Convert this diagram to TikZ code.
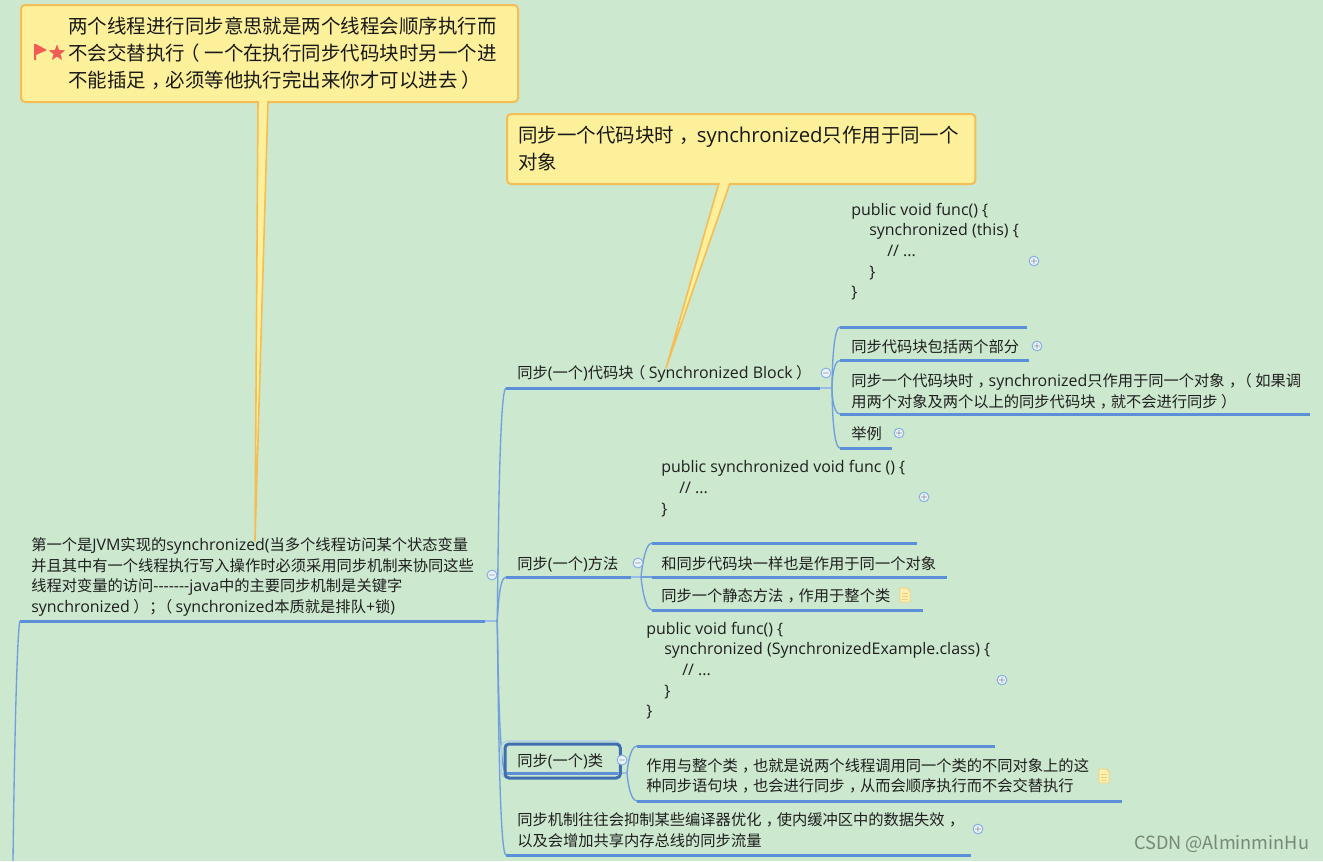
\documentclass[tikz,border=0pt]{standalone}
\usepackage{fontspec}
\setmainfont{Noto Sans CJK SC}
\newfontfamily\latf[Scale=1.045]{Open Sans}
\newcommand\lat[1]{{\latf #1}}
\newcommand\zd{\kern.28em，\kern-.28em}
\newcommand\zf{\kern.28em；\kern-.28em}
\newcommand\zl{\kern-.22em（\kern.22em}
\newcommand\zr{\kern.22em）\kern-.22em}
\usetikzlibrary{shapes.geometric,calc}
\definecolor{bgc}{HTML}{CCE8CF}
\definecolor{linec}{HTML}{5B8FD8}
\definecolor{branchc}{HTML}{6F9FDC}
\definecolor{callfill}{HTML}{FDF09B}
\definecolor{callline}{HTML}{F5BD55}
\definecolor{selc}{HTML}{3F6FB0}
\definecolor{redc}{HTML}{F25C54}
\definecolor{notef}{HTML}{FDF0B0}
\definecolor{notel}{HTML}{F3CE74}
\tikzset{
  x=0.75pt,y=-0.75pt,
  txt/.style={inner sep=0pt,anchor=west,align=left,font=\fontsize{11.45pt}{15.5pt}\selectfont,text=black!88},
  call/.style={draw=callline,fill=callfill,line width=1.5pt,rounded corners=3pt,inner sep=0pt,anchor=north west},
  calltxt/.style={inner sep=0pt,anchor=west,align=left,font=\fontsize{14.6pt}{20.3pt}\selectfont,text=black!90},
  tail/.style={draw=callline,fill=callfill,line width=1.2pt,line join=round},
  uline/.style={draw=linec,line width=2.25pt},
  branch/.style={draw=branchc,line width=1pt},
  stub/.style={draw=branchc!70,line width=1.5pt},
  togg/.style={circle,draw=branchc!85,fill=white!85!branchc,line width=.7pt,minimum size=6.6pt,inner sep=0pt,font=\fontsize{6pt}{6pt}\selectfont,text=black!70},
  sel/.style={draw=selc,line width=2.25pt,rounded corners=3pt,inner sep=0pt,anchor=north west},
}
% name, x0, x1, y of underline
\newcommand\ul[4]{\coordinate (#1s) at (#2,#4);\coordinate (#1e) at (#3,#4);\draw[uline] (#1s) -- (#1e);}
\newcommand\tog[3]{\node[togg] (#1) at (#2) {#3};}
\newcommand\noteicon[2]{\begin{scope}[shift={(#1,#2)}]\draw[fill=notef,draw=notel,line width=.7pt] (-5,-7) -- (2,-7) -- (5,-4) -- (5,7) -- (-5,7) -- cycle;\draw[notel,line width=.6pt] (-3,-2) -- (3,-2) (-3,1) -- (3,1) (-3,4) -- (3,4);\end{scope}}
\begin{document}
\begin{tikzpicture}
\path[fill=bgc] (0,0) rectangle (1323,861);
\useasboundingbox (0,0) rectangle (1323,861);

% callouts
\node[call,minimum width=372.75pt,minimum height=72.75pt] (callA) at (20,4) {};
\node[call,minimum width=351.25pt,minimum height=52.5pt] (callB) at (506,113) {};

% root and topics
\node[txt] (root) at (31,577) {第一个是\lat{JVM}实现的\lat{synchronized(}当多个线程访问某个状态变量\\并且其中有一个线程执行写入操作时必须采用同步机制来协同这些\\线程对变量的访问\lat{-{}-{}-{}-{}-{}-{}-java}中的主要同步机制是关键字\\\lat{synchronized}\zr\zf\zl\lat{synchronized}本质就是排队\lat{+}锁\lat{)}};
\ul{r}{20}{485}{621}
\node[txt] (a) at (517,374) {同步\lat{(}一个\lat{)}代码块\zl\lat{Synchronized Block}\zr};
\ul{a}{506}{820}{388}
\node[txt] (b) at (517,564) {同步\lat{(}一个\lat{)}方法};
\ul{b}{506}{631}{577}
\node[txt] (c) at (517,761) {同步\lat{(}一个\lat{)}类};
\node[txt] (d) at (517,830.5) {同步机制往往会抑制某些编译器优化\zd 使内缓冲区中的数据失效\zd\\以及会增加共享内存总线的同步流量};
\ul{d}{506}{971}{855}
\ul{c}{506}{618}{773}

% level 3
\node[txt] (a1) at (851,251.5) {\lat{public void func() \{}\\\hspace*{13.5pt}\lat{synchronized (this) \{}\\\hspace*{27pt}\lat{// ...}\\\hspace*{13.5pt}\lat{\}}\\\lat{\}}};
\ul{ao}{840}{1027}{327}
\node[txt] (a2) at (851,347) {同步代码块包括两个部分};
\ul{at}{840}{1029}{360.5}
\node[txt] (a3) at (851,391) {同步一个代码块时\zd\lat{synchronized}只作用于同一个对象\zd\zl 如果调\\用两个对象及两个以上的同步代码块\zd 就不会进行同步\zr};
\ul{au}{840}{1310}{414}
\node[txt] (a4) at (851,434) {举例};
\ul{av}{840}{892}{448}

\node[txt] (b1) at (661,488.5) {\lat{public synchronized void func () \{}\\\hspace*{13.5pt}\lat{// ...}\\\lat{\}}};
\ul{bo}{652}{917}{543}
\node[txt] (b2) at (661,564) {和同步代码块一样也是作用于同一个对象};
\ul{bt}{652}{947}{577}
\node[txt] (b3) at (661,596) {同步一个静态方法\zd 作用于整个类};
\ul{bu}{652}{923}{610}

\node[txt] (c1) at (646,670.5) {\lat{public void func() \{}\\\hspace*{13.5pt}\lat{synchronized (SynchronizedExample.class) \{}\\\hspace*{27pt}\lat{// ...}\\\hspace*{13.5pt}\lat{\}}\\\lat{\}}};
\ul{co}{637}{995}{746}
\node[txt] (c2) at (646,776) {作用与整个类\zd 也就是说两个线程调用同一个类的不同对象上的这\\种同步语句块\zd 也会进行同步\zd 从而会顺序执行而不会交替执行};
\ul{ct}{637}{1122}{801}

% branches
\coordinate (rt) at (497,621);
\coordinate (at) at (832,388);
\coordinate (bt) at (641,577);
\coordinate (ct) at (627,773);
\draw[stub] (re) -- (rt);
\draw[stub] (ae) -- (at);
\draw[stub] (be) -- (bt);
\draw[stub] (ce) -- (ct);
\draw[branch] (rs) .. controls (18,624) and (15,700) .. (13,861);
\foreach \t in {as,bs,cs,ds}{
  \draw[branch] (rt) .. controls ($(rt)+(1,0)$) and ($(\t)+(-8,0)$) .. (\t);}
\foreach \t in {aos,ats,aus,avs}{
  \draw[branch] (at) .. controls ($(at)+(0,0)$) and ($(\t)+(-8,0)$) .. (\t);}
\foreach \t in {bos,bts,bus}{
  \draw[branch] (bt) .. controls ($(bt)+(0,0)$) and ($(\t)+(-8,0)$) .. (\t);}
\foreach \t in {cos,cts}{
  \draw[branch] (ct) .. controls ($(ct)+(0,0)$) and ($(\t)+(-8,0)$) .. (\t);}

% selection
\draw[draw=branchc!55,line width=.8pt,rounded corners=4pt] (501.5,741) rectangle (620,778);
\node[sel,minimum width=86.5pt,minimum height=25.5pt] (csel) at (503.5,742.5) {};

% tails
\coordinate (ta1) at (258,101);\coordinate (ta2) at (268,101);\coordinate (ta3) at (255,541);
\draw[tail] (ta1) -- (ta3) -- (ta2);
\fill[callfill] ($(ta1)+(.8,-2)$) -- ($(ta1)+(.8,1)$) -- ($(ta2)+(-.8,1)$) -- ($(ta2)+(-.8,-2)$) -- cycle;
\coordinate (tb1) at (719,183);\coordinate (tb2) at (730,183);\coordinate (tb3) at (666,368);
\draw[tail] (tb1) -- (tb3) -- (tb2);
\fill[callfill] ($(tb1)+(.8,-2)$) -- ($(tb1)+(.8,1)$) -- ($(tb2)+(-.8,1)$) -- ($(tb2)+(-.8,-2)$) -- cycle;

\node[calltxt] (tA) at (68,53.5) {两个线程进行同步意思就是两个线程会顺序执行而\\不会交替执行\zl 一个在执行同步代码块时另一个进\\不能插足\zd 必须等他执行完出来你才可以进去\zr};
\node[calltxt] (tB) at (518,149) {同步一个代码块时\zd\kern2.5pt\lat{synchronized}只作用于同一个\\对象};

% marker icons
\fill[redc] (34,44) -- (36,44) -- (47,50) -- (36,55) -- (36,60) -- (34,60) -- cycle;
\node[star,star points=5,star point ratio=2.4,fill=redc,inner sep=0pt,minimum size=13pt] (mstar) at (57,53) {};

% toggles
\tog{tr}{492,575}{$-$}
\tog{ta}{826,373}{$-$}
\tog{tb}{638,563}{$-$}
\tog{tc}{622,760}{$-$}
\tog{pa1}{1034,261}{$+$}
\tog{pa2}{1037,346}{$+$}
\tog{pa4}{899,433}{$+$}
\tog{pb1}{924,497}{$+$}
\tog{pc1}{1002,680}{$+$}
\tog{pd}{978,829}{$+$}
\noteicon{905}{595}
\noteicon{1104}{776}

% watermark
\node[inner sep=0pt,anchor=west,font=\fontsize{13.6pt}{15pt}\selectfont,text=black!42!bgc] (wm) at (1134,844) {CSDN @AlminminHu};
\end{tikzpicture}
\end{document}
